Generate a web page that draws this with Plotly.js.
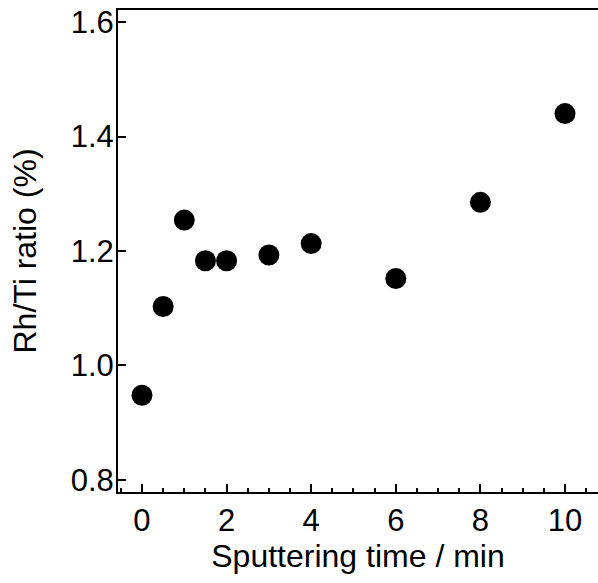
<!DOCTYPE html>
<html><head><meta charset="utf-8">
<script src="https://cdn.plot.ly/plotly-3.0.1.min.js"></script>
<style>html,body{margin:0;padding:0;background:#fff}</style>
</head><body>
<div id="plot" style="width:598px;height:583px"></div>
<script>
const sputterTime = [0, 0.5, 1, 1.5, 2, 3, 4, 6, 8, 10];
const rhTiRatio = [0.948, 1.103, 1.254, 1.183, 1.183, 1.193, 1.213, 1.152, 1.285, 1.440];
const xTicks = [0, 2, 4, 6, 8, 10];
const yTicks = [0.8, 1.0, 1.2, 1.4, 1.6];
const xTitle = 'Sputtering time / min';
const yTitle = 'Rh/Ti ratio (%)';

const font = 'Liberation Sans, Arial, sans-serif';
Plotly.newPlot('plot', [{
  x: sputterTime, y: rhTiRatio, type: 'scatter', mode: 'markers',
  marker: {size: 21, color: '#000'}
}], {
  width: 598, height: 583,
  margin: {l: 118, r: 0, t: 10, b: 91},
  paper_bgcolor: '#fff', plot_bgcolor: '#fff',
  showlegend: false,
  font: {family: font, color: '#000'},
  xaxis: {
    range: [-0.567, 10.78], tickvals: xTicks, ticktext: xTicks.map(String),
    showgrid: false, zeroline: false, showline: true, linecolor: '#000', linewidth: 2,
    mirror: true, ticks: 'inside', ticklen: 8, tickwidth: 2, tickcolor: '#000',
    minor: {dtick: 0.5, ticks: 'inside', ticklen: 4, tickwidth: 2, tickcolor: '#000'},
    tickfont: {size: 31, family: font, color: '#000'},
    title: {text: xTitle, font: {size: 32, family: font, color: '#000'}, standoff: 6}
  },
  yaxis: {
    range: [0.779, 1.621], tickvals: yTicks, ticktext: yTicks.map(v => v.toFixed(1)),
    showgrid: false, zeroline: false, showline: true, linecolor: '#000', linewidth: 2,
    mirror: false, ticks: 'inside', ticklen: 8, tickwidth: 2, tickcolor: '#000',
    ticklabelstandoff: -4,
    tickfont: {size: 31, family: font, color: '#000'},
    title: {text: yTitle, font: {size: 32, family: font, color: '#000'}, standoff: 24}
  }
}, {displayModeBar: false, staticPlot: true});
</script>
</body></html>
